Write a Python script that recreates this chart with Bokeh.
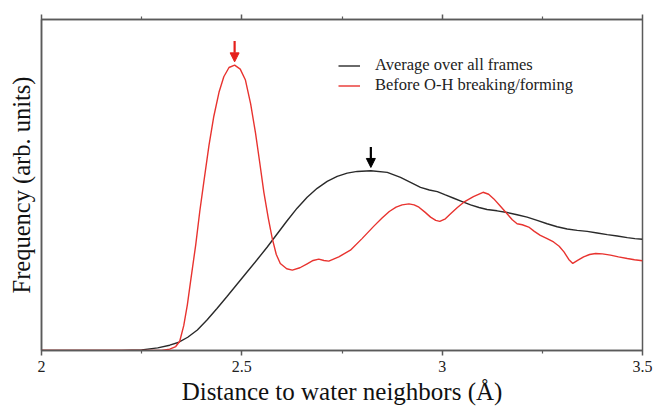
from bokeh.plotting import figure
from bokeh.models import Range1d, LinearAxis, Legend, LegendItem, Arrow, NormalHead, FixedTicker
from bokeh.embed import file_html
from bokeh.resources import INLINE

# ---- data ----
red_x = [2.00, 2.25, 2.30, 2.32, 2.335, 2.345, 2.355, 2.364, 2.372, 2.385, 2.395, 2.405,
         2.418, 2.430, 2.443, 2.455, 2.468, 2.482, 2.496, 2.509, 2.522, 2.534, 2.545,
         2.555, 2.566, 2.576, 2.586, 2.596, 2.612, 2.626, 2.645, 2.663, 2.678, 2.692,
         2.705, 2.717, 2.742, 2.771, 2.800, 2.829, 2.850, 2.868, 2.885, 2.900, 2.917,
         2.930, 2.942, 2.957, 2.971, 2.984, 2.994, 3.008, 3.021, 3.038, 3.054, 3.078,
         3.102, 3.116, 3.129, 3.146, 3.162, 3.175, 3.187, 3.200, 3.216, 3.230, 3.245,
         3.262, 3.278, 3.292, 3.304, 3.316, 3.326, 3.338, 3.353, 3.368, 3.383, 3.400,
         3.420, 3.440, 3.462, 3.480, 3.500]
red_y = [0.0, 0.0, 0.0, 0.004, 0.012, 0.028, 0.075, 0.138, 0.208, 0.320, 0.420, 0.508,
         0.620, 0.707, 0.780, 0.827, 0.855, 0.862, 0.850, 0.817, 0.745, 0.658, 0.565,
         0.478, 0.400, 0.338, 0.290, 0.263, 0.247, 0.243, 0.250, 0.262, 0.272, 0.276,
         0.272, 0.270, 0.283, 0.303, 0.338, 0.375, 0.400, 0.420, 0.433, 0.440, 0.443,
         0.440, 0.433, 0.418, 0.403, 0.393, 0.390, 0.398, 0.413, 0.432, 0.448, 0.465,
         0.478, 0.472, 0.458, 0.435, 0.413, 0.395, 0.383, 0.380, 0.373, 0.360, 0.348,
         0.338, 0.328, 0.315, 0.298, 0.275, 0.263, 0.272, 0.283, 0.290, 0.293, 0.292,
         0.288, 0.283, 0.278, 0.274, 0.271]

black_x = [2.00, 2.20, 2.25, 2.29, 2.32, 2.343, 2.365, 2.389, 2.413, 2.438, 2.463, 2.488,
           2.513, 2.538, 2.563, 2.588, 2.613, 2.638, 2.663, 2.688, 2.713, 2.738, 2.763,
           2.788, 2.822, 2.863, 2.896, 2.921, 2.946, 2.968, 2.988, 3.008, 3.029, 3.050,
           3.071, 3.092, 3.112, 3.137, 3.162, 3.187, 3.212, 3.237, 3.262, 3.287, 3.312,
           3.337, 3.362, 3.387, 3.412, 3.437, 3.462, 3.481, 3.500]
black_y = [0.0, 0.0, 0.002, 0.008, 0.016, 0.025, 0.040, 0.062, 0.092, 0.127, 0.163, 0.200,
           0.237, 0.274, 0.312, 0.352, 0.392, 0.430, 0.463, 0.490, 0.511, 0.526, 0.536,
           0.541, 0.543, 0.538, 0.523, 0.508, 0.493, 0.485, 0.480, 0.470, 0.460, 0.450,
           0.440, 0.432, 0.426, 0.422, 0.417, 0.410, 0.403, 0.393, 0.383, 0.374, 0.367,
           0.363, 0.360, 0.355, 0.350, 0.346, 0.341, 0.338, 0.336]

series_labels = ["Average over all frames", "Before O-H breaking/forming"]
x_ticks = [2, 2.5, 3, 3.5]
x_minor_ticks = [2.25, 2.75, 3.25]

# peak markers (arrows)
arrow_x = [2.482, 2.822]
arrow_y_start = [0.935, 0.615]
arrow_y_end = [0.872, 0.553]

SERIF = "Liberation Serif"
AXIS_COLOR = "#5a5a5a"
RED = "#e8332f"
BLACK = "#2a2a2a"

p = figure(width=654, height=407, output_backend="svg", toolbar_location=None,
           x_range=Range1d(2, 3.5), y_range=Range1d(0, 1),
           min_border_left=41, min_border_right=12, min_border_top=19, min_border_bottom=54,
           x_axis_location=None, y_axis_location=None)
p.xgrid.visible = False
p.ygrid.visible = False
p.outline_line_color = AXIS_COLOR
p.outline_line_width = 1.5
p.background_fill_color = "white"
p.border_fill_color = "white"

def style_x(ax, show_labels):
    ax.ticker = FixedTicker(ticks=x_ticks, minor_ticks=x_minor_ticks)
    ax.axis_line_color = AXIS_COLOR
    ax.axis_line_width = 1.5
    ax.major_tick_line_color = AXIS_COLOR
    ax.minor_tick_line_color = AXIS_COLOR
    ax.major_tick_line_width = 1.5
    ax.minor_tick_line_width = 1.2
    ax.major_tick_in = 0
    ax.major_tick_out = 5
    ax.minor_tick_in = 0
    ax.minor_tick_out = 3
    if show_labels:
        ax.major_label_text_font = SERIF
        ax.major_label_text_font_size = "16px"
        ax.major_label_text_color = "#222222"
        ax.major_label_standoff = 5
    else:
        ax.major_label_overrides = {t: "" for t in x_ticks}
        ax.major_label_text_font_size = "10px"
        ax.major_label_standoff = 0

xb = LinearAxis(axis_label="Distance to water neighbors (Å)")
style_x(xb, True)
xb.axis_label_text_font = SERIF
xb.axis_label_text_font_size = "25px"
xb.axis_label_text_font_style = "normal"
xb.axis_label_text_color = "#111111"
xb.axis_label_standoff = 3
p.add_layout(xb, "below")

xt = LinearAxis()
style_x(xt, False)
p.add_layout(xt, "above")

yl = LinearAxis(axis_label="Frequency (arb. units)")
yl.ticker = FixedTicker(ticks=[])
yl.major_tick_in = 0
yl.major_tick_out = 0
yl.minor_tick_in = 0
yl.minor_tick_out = 0
yl.major_label_standoff = 0
yl.axis_line_color = AXIS_COLOR
yl.axis_line_width = 1.5
yl.axis_label_text_font = SERIF
yl.axis_label_text_font_size = "24.5px"
yl.axis_label_text_font_style = "normal"
yl.axis_label_text_color = "#111111"
yl.axis_label_standoff = 7
p.add_layout(yl, "left")

r_black = p.line(black_x, black_y, line_color=BLACK, line_width=1.4)
r_red = p.line(red_x, red_y, line_color=RED, line_width=1.4)

arrow_colors = ["#e5201c", "#000000"]
for i in range(len(arrow_x)):
    p.add_layout(Arrow(x_start=arrow_x[i], y_start=arrow_y_start[i],
                       x_end=arrow_x[i], y_end=arrow_y_end[i],
                       line_color=arrow_colors[i], line_width=2.2,
                       end=NormalHead(size=9, fill_color=arrow_colors[i],
                                      line_color=arrow_colors[i], line_width=1)))

legend = Legend(items=[LegendItem(label=series_labels[0], renderers=[r_black]),
                       LegendItem(label=series_labels[1], renderers=[r_red])],
                location=(297, 255), padding=0, margin=0, spacing=0,
                glyph_width=22, glyph_height=19, label_height=19,
                label_standoff=15, border_line_color=None,
                background_fill_alpha=0,
                label_text_font=SERIF, label_text_font_size="16.5px",
                label_text_color="#222222")
p.add_layout(legend, "center")

open("out.html", "w").write(file_html(p, INLINE))
